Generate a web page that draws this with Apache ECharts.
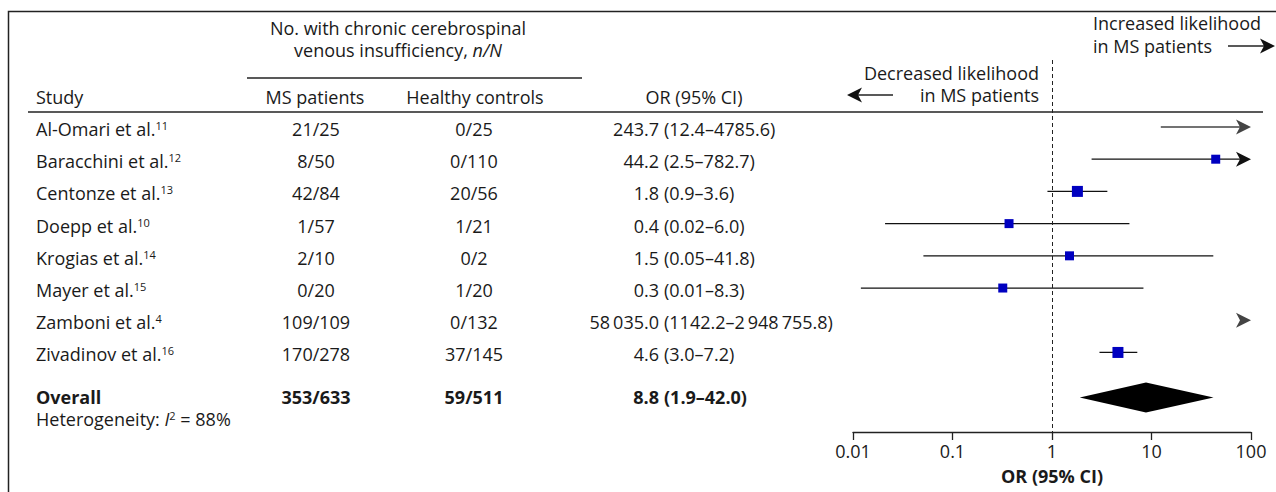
<!DOCTYPE html>
<html>
<head>
<meta charset="utf-8">
<script src="https://cdn.jsdelivr.net/npm/echarts@6/dist/echarts.min.js"></script>
<style>
html, body { margin: 0; padding: 0; background: #fff; }
#forestPlot { width: 1276px; height: 492px; }
</style>
</head>
<body>
<div id="forestPlot"></div>
<script>
// study table
const studyNames = ['Al-Omari et al.', 'Baracchini et al.', 'Centonze et al.', 'Doepp et al.',
  'Krogias et al.', 'Mayer et al.', 'Zamboni et al.', 'Zivadinov et al.']
const studyRefs = ['11', '12', '13', '10', '14', '15', '4', '16']
const msPatients = ['21/25', '8/50', '42/84', '1/57', '2/10', '0/20', '109/109', '170/278']
const healthyControls = ['0/25', '0/110', '20/56', '1/21', '0/2', '1/20', '0/132', '37/145']
const orText = ['243.7', '44.2', '1.8', '0.4', '1.5', '0.3', '58\u2009035.0', '4.6']
const ciText = ['(12.4–4785.6)', '(2.5–782.7)', '(0.9–3.6)', '(0.02–6.0)', '(0.05–41.8)',
  '(0.01–8.3)', '(1142.2–2\u2009948\u2009755.8)', '(3.0–7.2)']

// values plotted (odds ratio and 95% CI)
const orValue = [243.7, 44.2, 1.8, 0.37, 1.5, 0.32, 58035.0, 4.6]
const ciLow = [12.4, 2.5, 0.9, 0.021, 0.051, 0.012, 1142.2, 3.0]
const ciHigh = [4785.6, 782.7, 3.6, 6.0, 41.8, 8.3, 2948755.8, 7.2]
const studyWeight = [0, 0.5, 1, 0.5, 0.5, 0.5, 0, 1]

// pooled result
const overallLabel = ['Overall', '353/633', '59/511', '8.8', '(1.9–42.0)']
const overallValue = [1.9, 8.8, 42.0]
const heterogeneity = 'Heterogeneity: {it|I}{sup|2} = 88%'

const tickLabels = ['0.01', '0.1', '1', '10', '100']
const AXIS_MIN = 0.01
const AXIS_MAX = 100
const OVERALL_ROW = 8.4

const FONT = '"Open Sans", "Noto Sans", sans-serif'
const FS = 18
const INK = '#1a1a1a'
const BOX_COLOR = '#0000c0'

const rich = {
  sup: { fontSize: 11, fontFamily: FONT, fill: INK, verticalAlign: 'top', lineHeight: 11 },
  it: { fontStyle: 'italic', fontSize: FS, fontFamily: FONT, fill: INK }
}

function txt(x, y, text, align, bold) {
  return {
    type: 'text',
    silent: true,
    style: {
      x: x, y: y, text: text,
      fontFamily: FONT, fontSize: FS, fill: INK,
      fontWeight: bold ? 'bold' : 'normal',
      lineHeight: FS,
      textAlign: align || 'left',
      textVerticalAlign: 'middle',
      rich: rich
    }
  }
}

function hline(x1, x2, y, w) {
  return { type: 'line', silent: true, shape: { x1: x1, y1: y, x2: x2, y2: y }, style: { stroke: '#222', lineWidth: w || 1.3 } }
}

function arrowHead(x, y, dir) {
  return [[x, y], [x - 15 * dir, y - 7.5], [x - 11 * dir, y], [x - 15 * dir, y + 7.5]]
}

const graphics = [
  { type: 'rect', silent: true, shape: { x: 8.5, y: 11.5, width: 1400, height: 600 }, style: { fill: 'none', stroke: '#222', lineWidth: 1.5 } },
  txt(398, 28, 'No. with chronic cerebrospinal', 'center'),
  txt(398, 50, 'venous insufficiency, {it|n/N}', 'center'),
  hline(247, 582, 78),
  txt(36, 97, 'Study'),
  txt(315, 97, 'MS patients', 'center'),
  txt(475, 97, 'Healthy controls', 'center'),
  txt(694, 97, 'OR (95% CI)', 'center'),
  hline(28, 1263, 112, 1.5),
  txt(1039, 73, 'Decreased likelihood', 'right'),
  txt(1039, 95, 'in MS patients', 'right'),
  hline(853, 893, 95),
  { type: 'polygon', silent: true, shape: { points: arrowHead(847, 95, -1) }, style: { fill: '#111' } },
  txt(1093, 23, 'Increased likelihood'),
  txt(1093, 46, 'in MS patients'),
  hline(1228, 1266, 46),
  { type: 'polygon', silent: true, shape: { points: arrowHead(1275, 46, 1) }, style: { fill: '#111' } }
]

studyNames.forEach(function (name, i) {
  const y = 129 + 32.2 * i
  graphics.push(txt(36, y, name + '{sup|' + studyRefs[i] + '}'))
  graphics.push(txt(316, y, msPatients[i], 'center'))
  graphics.push(txt(474, y, healthyControls[i], 'center'))
  graphics.push(txt(659, y, orText[i], 'right'))
  graphics.push(txt(664, y, ciText[i], 'left'))
})
graphics.push(txt(36, 397, overallLabel[0], 'left', true))
graphics.push(txt(316, 397, overallLabel[1], 'center', true))
graphics.push(txt(474, 397, overallLabel[2], 'center', true))
graphics.push(txt(659, 397, overallLabel[3], 'right', true))
graphics.push(txt(664, 397, overallLabel[4], 'left', true))
graphics.push(txt(36, 419, heterogeneity))

function renderStudy(params, api) {
  const row = api.value(0)
  const lo = api.value(1), est = api.value(2), hi = api.value(3), w = api.value(4)
  const xLeft = api.coord([AXIS_MIN, row])[0]
  const xRight = api.coord([AXIS_MAX, row])[0]
  const y = api.coord([1, row])[1]
  const clipped = est > AXIS_MAX
  const color = clipped ? '#444' : '#111'
  const children = []
  if (lo < AXIS_MAX) {
    const x1 = Math.max(api.coord([lo, row])[0], xLeft)
    const x2 = hi > AXIS_MAX ? xRight - 5 : api.coord([hi, row])[0]
    children.push({ type: 'line', shape: { x1: x1, y1: y, x2: x2, y2: y }, style: { stroke: color, lineWidth: 1.3 } })
  }
  if (hi > AXIS_MAX) {
    children.push({ type: 'polygon', shape: { points: arrowHead(xRight, y, 1) }, style: { fill: color } })
  }
  if (!clipped && w > 0) {
    const s = 7 + 4 * w
    const xe = api.coord([est, row])[0]
    children.push({ type: 'rect', shape: { x: xe - s / 2, y: y - s / 2, width: s, height: s }, style: { fill: BOX_COLOR } })
  }
  return { type: 'group', children: children }
}

function renderDiamond(params, api) {
  const row = api.value(0)
  const left = api.coord([api.value(1), row])
  const mid = api.coord([api.value(2), row])
  const right = api.coord([api.value(3), row])
  return {
    type: 'polygon',
    shape: { points: [[left[0], mid[1]], [mid[0], mid[1] - 15], [right[0], mid[1]], [mid[0], mid[1] + 15]] },
    style: { fill: '#000' }
  }
}

const chart = echarts.init(document.getElementById('forestPlot'), null, { renderer: 'svg' })
const option = {
  animation: false,
  grid: { left: 853, right: 25, top: 60, bottom: 60 },
  xAxis: {
    type: 'log',
    logBase: 10,
    min: AXIS_MIN,
    max: AXIS_MAX,
    axisLine: { onZero: false, lineStyle: { color: '#222', width: 1.3 } },
    axisTick: { length: 8, lineStyle: { color: '#222', width: 1.3 } },
    axisLabel: {
      fontFamily: FONT, fontSize: FS, color: INK, margin: 10,
      formatter: function (v) { return tickLabels[Math.round(Math.log10(v)) + 2] }
    },
    splitLine: { show: false },
    name: 'OR (95% CI)',
    nameLocation: 'middle',
    nameGap: 35,
    nameTextStyle: { fontFamily: FONT, fontSize: FS, fontWeight: 'bold', color: INK }
  },
  yAxis: { type: 'value', inverse: true, min: -2.08, max: 9.47, show: false },
  series: [
    {
      type: 'custom',
      renderItem: renderStudy,
      encode: { x: 2, y: 0 },
      data: studyNames.map(function (n, i) { return [i, ciLow[i], orValue[i], ciHigh[i], studyWeight[i]] }),
      markLine: {
        silent: true,
        symbol: 'none',
        label: { show: false },
        lineStyle: { type: [4, 3], color: '#222', width: 1 },
        data: [{ xAxis: 1 }]
      }
    },
    {
      type: 'custom',
      renderItem: renderDiamond,
      encode: { x: 2, y: 0 },
      data: [[OVERALL_ROW, overallValue[0], overallValue[1], overallValue[2]]]
    }
  ],
  graphic: graphics
}
chart.setOption(option)
window.addEventListener('resize', function () { chart.resize() })
</script>
</body>
</html>
